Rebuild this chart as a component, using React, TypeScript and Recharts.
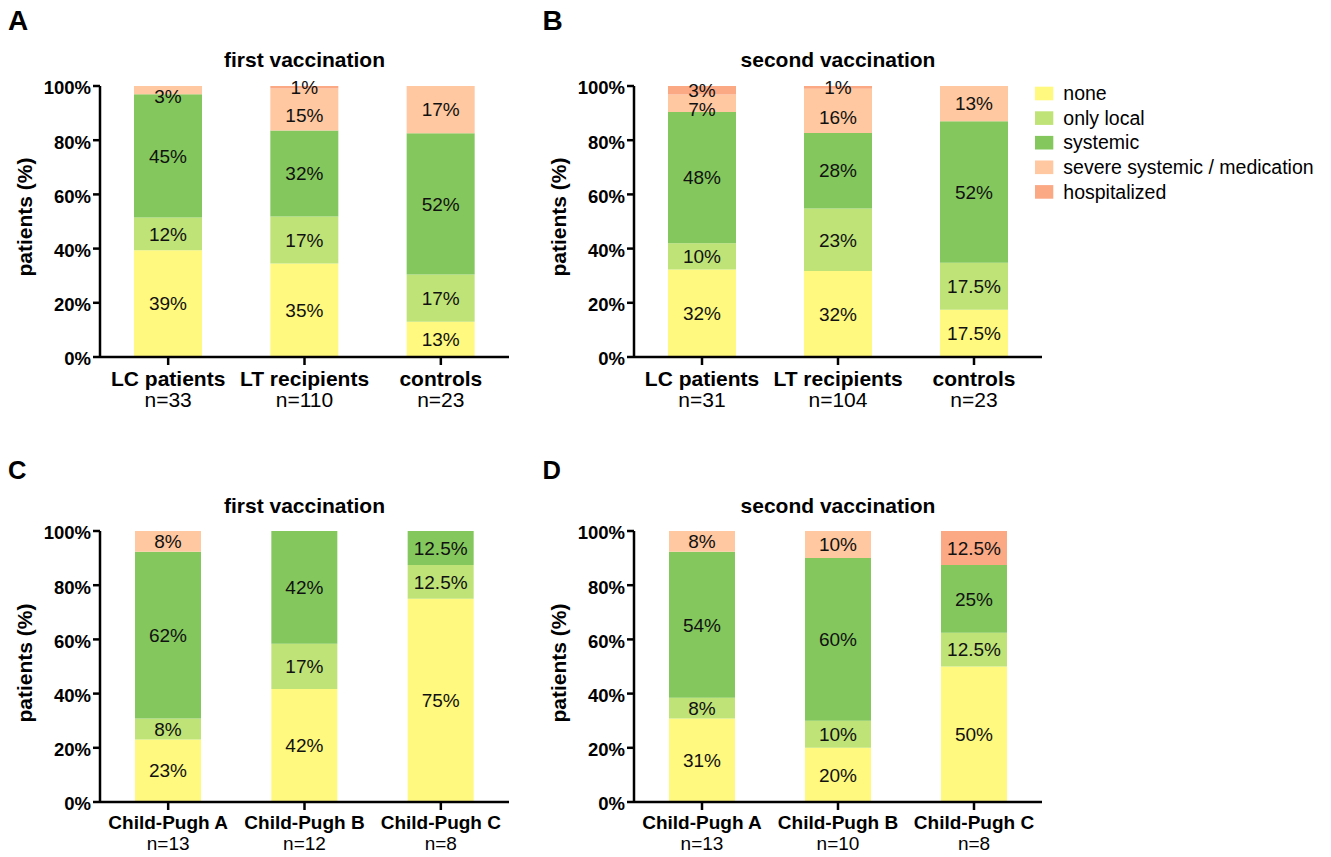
import React from 'react';
import { BarChart, Bar, XAxis, YAxis, LabelList } from 'recharts';

const FONT = '"Liberation Sans", Arial, Helvetica, sans-serif';

// series
const SERIES_KEYS = ['none', 'local', 'systemic', 'severe', 'hosp'];
const SERIES_NAMES = ['none', 'only local', 'systemic', 'severe systemic / medication', 'hospitalized'];
const SERIES_COLORS = ['#FFF97F', '#BFE377', '#84C85D', '#FFC8A0', '#FBA885'];
const Y_TICKS = [0, 20, 40, 60, 80, 100];

// Panel A – first vaccination
const A_TITLE = 'first vaccination';
const A_CATEGORIES = ['LC patients', 'LT recipients', 'controls'];
const A_N = ['n=33', 'n=110', 'n=23'];
const A_NONE = [39.4, 34.5, 13.0];
const A_LOCAL = [12.1, 17.3, 17.4];
const A_SYSTEMIC = [45.5, 31.8, 52.2];
const A_SEVERE = [3.0, 15.5, 17.4];
const A_HOSP = [0, 0.9, 0];
const A_NONE_L = ['39%', '35%', '13%'];
const A_LOCAL_L = ['12%', '17%', '17%'];
const A_SYSTEMIC_L = ['45%', '32%', '52%'];
const A_SEVERE_L = ['3%', '15%', '17%'];
const A_HOSP_L = ['', '1%', ''];

// Panel B – second vaccination
const B_TITLE = 'second vaccination';
const B_CATEGORIES = ['LC patients', 'LT recipients', 'controls'];
const B_N = ['n=31', 'n=104', 'n=23'];
const B_NONE = [32.3, 31.7, 17.4];
const B_LOCAL = [9.7, 23.1, 17.4];
const B_SYSTEMIC = [48.4, 27.9, 52.2];
const B_SEVERE = [6.5, 16.3, 13.0];
const B_HOSP = [3.2, 1.0, 0];
const B_NONE_L = ['32%', '32%', '17.5%'];
const B_LOCAL_L = ['10%', '23%', '17.5%'];
const B_SYSTEMIC_L = ['48%', '28%', '52%'];
const B_SEVERE_L = ['7%', '16%', '13%'];
const B_HOSP_L = ['3%', '1%', ''];

// Panel C – first vaccination, Child-Pugh
const C_TITLE = 'first vaccination';
const C_CATEGORIES = ['Child-Pugh A', 'Child-Pugh B', 'Child-Pugh C'];
const C_N = ['n=13', 'n=12', 'n=8'];
const C_NONE = [23.1, 41.7, 75];
const C_LOCAL = [7.7, 16.7, 12.5];
const C_SYSTEMIC = [61.5, 41.7, 12.5];
const C_SEVERE = [7.7, 0, 0];
const C_HOSP = [0, 0, 0];
const C_NONE_L = ['23%', '42%', '75%'];
const C_LOCAL_L = ['8%', '17%', '12.5%'];
const C_SYSTEMIC_L = ['62%', '42%', '12.5%'];
const C_SEVERE_L = ['8%', '', ''];
const C_HOSP_L = ['', '', ''];

// Panel D – second vaccination, Child-Pugh
const D_TITLE = 'second vaccination';
const D_CATEGORIES = ['Child-Pugh A', 'Child-Pugh B', 'Child-Pugh C'];
const D_N = ['n=13', 'n=10', 'n=8'];
const D_NONE = [30.8, 20, 50];
const D_LOCAL = [7.7, 10, 12.5];
const D_SYSTEMIC = [53.8, 60, 25];
const D_SEVERE = [7.7, 10, 0];
const D_HOSP = [0, 0, 12.5];
const D_NONE_L = ['31%', '20%', '50%'];
const D_LOCAL_L = ['8%', '10%', '12.5%'];
const D_SYSTEMIC_L = ['54%', '60%', '25%'];
const D_SEVERE_L = ['8%', '10%', ''];
const D_HOSP_L = ['', '', '12.5%'];

function makeRows(cats: string[], values: number[][], labels: string[][]) {
  return cats.map((cat, i) => {
    const row: any = { cat };
    SERIES_KEYS.forEach((k, s) => {
      row[k] = values[s][i];
      row[k + '_l'] = labels[s][i];
    });
    return row;
  });
}

const A_ROWS = makeRows(A_CATEGORIES, [A_NONE, A_LOCAL, A_SYSTEMIC, A_SEVERE, A_HOSP], [A_NONE_L, A_LOCAL_L, A_SYSTEMIC_L, A_SEVERE_L, A_HOSP_L]);
const B_ROWS = makeRows(B_CATEGORIES, [B_NONE, B_LOCAL, B_SYSTEMIC, B_SEVERE, B_HOSP], [B_NONE_L, B_LOCAL_L, B_SYSTEMIC_L, B_SEVERE_L, B_HOSP_L]);
const C_ROWS = makeRows(C_CATEGORIES, [C_NONE, C_LOCAL, C_SYSTEMIC, C_SEVERE, C_HOSP], [C_NONE_L, C_LOCAL_L, C_SYSTEMIC_L, C_SEVERE_L, C_HOSP_L]);
const D_ROWS = makeRows(D_CATEGORIES, [D_NONE, D_LOCAL, D_SYSTEMIC, D_SEVERE, D_HOSP], [D_NONE_L, D_LOCAL_L, D_SYSTEMIC_L, D_SEVERE_L, D_HOSP_L]);

const AXIS_STYLE = { stroke: '#000', strokeWidth: 2.5 };

// label renderer for one series; severe labels are nudged down when crowded at the top of a bar
function makeSegLabel(key: string, rows: any[]) {
  return (props: any) => {
    const vb = props.viewBox || props;
    const { value, index } = props;
    if (!value) return null;
    const w = vb.width ?? props.width;
    const h = Math.abs(vb.height ?? props.height);
    const x = (vb.x ?? props.x) + w / 2;
    const yTop = Math.min(vb.y ?? props.y, (vb.y ?? props.y) + (vb.height ?? props.height));
    let y = yTop + h / 2;
    if (key === 'severe') {
      const row = rows[index] || {};
      if (h < 12 || (row.hosp && row.hosp > 0)) y += 6;
    }
    return (
      <text x={x} y={y} dy={6.8} textAnchor="middle" fill="#111" fontSize={19} fontFamily={FONT}>
        {value}
      </text>
    );
  };
}

function YTick(props: any) {
  const { x, y, payload } = props;
  return (
    <text x={x} y={y} dy={8.4} textAnchor="end" fill="#000" fontSize={18.5} fontWeight={700} fontFamily={FONT}>
      {payload.value}%
    </text>
  );
}

type PanelProps = {
  left: number;
  top: number;
  rows: any[];
  nLabels: string[];
  catDy: number;
  nDy: number;
  fontSize: number;
  marginRight: number;
  barSize: number;
};

function Panel({ left, top, rows, nLabels, catDy, nDy, fontSize, marginRight, barSize }: PanelProps) {
  const XTick = (p: any) => {
    const idx = p.payload && typeof p.payload.index === 'number' ? p.payload.index : p.index;
    return (
      <g>
        <text x={p.x} y={p.y} dy={catDy} textAnchor="middle" fill="#000" fontSize={fontSize} fontWeight={700} fontFamily={FONT}>
          {p.payload.value}
        </text>
        <text x={p.x} y={p.y} dy={nDy} textAnchor="middle" fill="#000" fontSize={fontSize} fontFamily={FONT}>
          {nLabels[idx]}
        </text>
      </g>
    );
  };
  return (
    <div style={{ position: 'absolute', left, top }}>
      <BarChart width={540} height={412} data={rows} margin={{ top: 86, right: marginRight, bottom: 5, left: 0 }} barSize={barSize}>
        <XAxis
          dataKey="cat"
          height={50}
          tickSize={8}
          tickMargin={2}
          interval={0}
          axisLine={AXIS_STYLE}
          tickLine={AXIS_STYLE}
          tick={XTick}
        />
        <YAxis
          type="number"
          width={100}
          domain={[0, 100]}
          ticks={Y_TICKS}
          allowDataOverflow
          interval={0}
          tickSize={7}
          tickMargin={2}
          axisLine={AXIS_STYLE}
          tickLine={AXIS_STYLE}
          tick={YTick}
        />
        {SERIES_KEYS.map((k, i) => (
          <Bar key={k} dataKey={k} name={SERIES_NAMES[i]} stackId="s" fill={SERIES_COLORS[i]} isAnimationActive={false}>
            <LabelList dataKey={k + '_l'} content={makeSegLabel(k, rows)} />
          </Bar>
        ))}
      </BarChart>
    </div>
  );
}

const LEFT_X = 0;
const RIGHT_X = 534;
const TOP_Y = 0;
const BOTTOM_Y = 445;

export default function App() {
  const titleStyle = { fontSize: 21, fontWeight: 700, fontFamily: FONT } as any;
  const letterStyle = { fontWeight: 700, fontFamily: FONT } as any;
  return (
    <div style={{ position: 'absolute', left: 0, top: 0, width: 1331, height: 857, background: '#fff', fontFamily: FONT, overflow: 'hidden' }}>
      <Panel left={LEFT_X} top={TOP_Y} rows={A_ROWS} nLabels={A_N} catDy={19} nDy={40} fontSize={21} marginRight={31} barSize={68} />
      <Panel left={RIGHT_X} top={TOP_Y} rows={B_ROWS} nLabels={B_N} catDy={19} nDy={40} fontSize={21} marginRight={32} barSize={68} />
      <Panel left={LEFT_X} top={BOTTOM_Y} rows={C_ROWS} nLabels={C_N} catDy={17} nDy={38.4} fontSize={19} marginRight={31} barSize={66} />
      <Panel left={RIGHT_X} top={BOTTOM_Y} rows={D_ROWS} nLabels={D_N} catDy={17} nDy={38.4} fontSize={19} marginRight={32} barSize={66} />
      <svg width={1331} height={857} style={{ position: 'absolute', left: 0, top: 0, pointerEvents: 'none' }}>
        {/* panel letters */}
        <text x={8} y={30} fontSize={28} {...letterStyle}>A</text>
        <text x={542.5} y={30} fontSize={28} {...letterStyle}>B</text>
        <text x={8} y={479} fontSize={25.5} {...letterStyle}>C</text>
        <text x={542.5} y={479} fontSize={25.5} {...letterStyle}>D</text>
        {/* titles */}
        <text x={304.5} y={66.7} textAnchor="middle" {...titleStyle}>{A_TITLE}</text>
        <text x={838} y={66.7} textAnchor="middle" {...titleStyle}>{B_TITLE}</text>
        <text x={304.5} y={512.7} textAnchor="middle" {...titleStyle}>{C_TITLE}</text>
        <text x={838} y={512.7} textAnchor="middle" {...titleStyle}>{D_TITLE}</text>
        {/* y axis labels */}
        {[
          [31.5, 217],
          [565.5, 217],
          [31.5, 663],
          [565.5, 663],
        ].map(([x, y], i) => (
          <text key={i} transform={`translate(${x},${y}) rotate(-90)`} textAnchor="middle" {...titleStyle}>
            patients (%)
          </text>
        ))}
        {/* legend */}
        {SERIES_NAMES.map((name, i) => {
          const top = 86.7 + i * 24.6;
          return (
            <g key={name}>
              <rect x={1035} y={top} width={18.3} height={13.6} fill={SERIES_COLORS[i]} />
              <text x={1063.3} y={top + 13.4} fontSize={19.5} fontFamily={FONT} fill="#000">
                {name}
              </text>
            </g>
          );
        })}
      </svg>
    </div>
  );
}
